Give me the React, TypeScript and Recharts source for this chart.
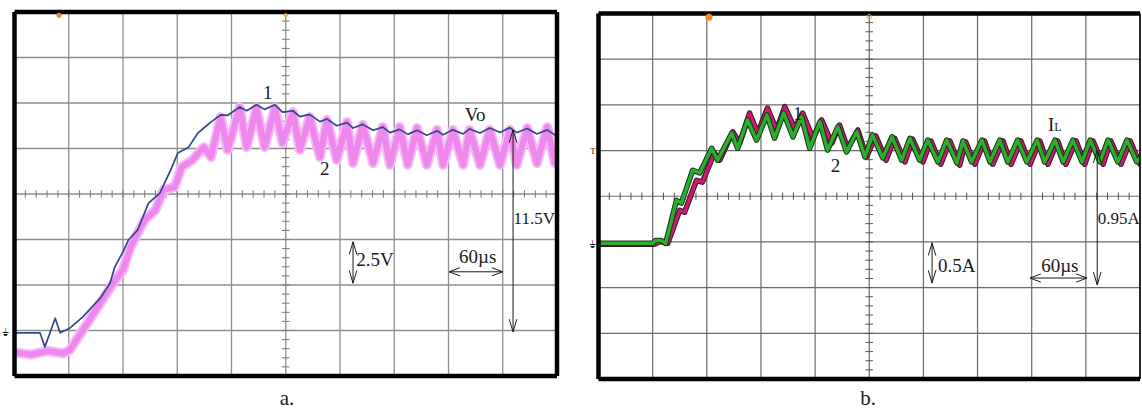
import React from 'react';
import {
  LineChart, Line, XAxis, YAxis, CartesianGrid,
  ReferenceLine, ReferenceDot,
} from 'recharts';

// scope divisions
const divTicksX = [0, 1, 2, 3, 4, 5, 6, 7, 8, 9, 10];
const divTicksY = [0, 1, 2, 3, 4, 5, 6, 7, 8];

// panel a: output voltage, [time div, level div]
const voTrace: [number, number][] = [
  [0, 0.95], [0.47, 0.95], [0.56, 0.64], [0.75, 1.27], [0.84, 0.95], [1.02, 1.05],
  [1.26, 1.3], [1.58, 1.71], [1.76, 2.04], [1.85, 2.4], [2.0, 2.73], [2.1, 2.99],
  [2.27, 3.21], [2.47, 3.8], [2.68, 4.02], [2.88, 4.53], [3.01, 4.9], [3.21, 5.03],
  [3.38, 5.34], [3.49, 5.45], [3.62, 5.58], [3.8, 5.74], [3.93, 5.73], [4.15, 5.91],
  [4.28, 5.83], [4.46, 5.96], [4.61, 5.86], [4.8, 5.96], [4.94, 5.8], [5.13, 5.83],
  [5.26, 5.7], [5.44, 5.75], [5.63, 5.59], [5.76, 5.65], [5.94, 5.5], [6.13, 5.57],
  [6.24, 5.45], [6.42, 5.53], [6.61, 5.4], [6.79, 5.47], [6.92, 5.35], [7.1, 5.42],
  [7.25, 5.31], [7.42, 5.4], [7.6, 5.29], [7.79, 5.39], [7.9, 5.3], [8.08, 5.41],
  [8.27, 5.32], [8.39, 5.43], [8.58, 5.34], [8.76, 5.45], [8.95, 5.35], [9.13, 5.46],
  [9.26, 5.35], [9.45, 5.44], [9.63, 5.32], [9.82, 5.41], [9.96, 5.3], [10, 5.33],
];

const pinkTrace: [number, number][] = [
  [0, 0.52], [0.3, 0.47], [0.6, 0.55], [0.9, 0.5], [1.02, 0.57], [1.26, 1.01],
  [1.58, 1.6], [1.82, 2.04], [2.0, 2.33], [2.14, 2.84], [2.4, 3.43], [2.6, 3.65],
  [2.75, 4.09], [2.95, 4.15], [3.08, 4.59], [3.28, 4.75], [3.49, 5.03], [3.62, 4.81],
  [3.8, 5.69], [3.93, 4.97], [4.15, 5.91], [4.28, 5.03], [4.46, 5.89], [4.61, 5.03],
  [4.8, 5.89], [4.94, 5.12], [5.13, 5.8], [5.26, 4.97], [5.44, 5.69], [5.63, 4.81],
  [5.76, 5.63], [5.94, 4.75], [6.13, 5.58], [6.24, 4.68], [6.42, 5.52], [6.61, 4.68],
  [6.79, 5.47], [6.92, 4.64], [7.1, 5.47], [7.25, 4.64], [7.42, 5.45], [7.6, 4.64],
  [7.79, 5.41], [7.9, 4.64], [8.08, 5.41], [8.27, 4.64], [8.39, 5.41], [8.58, 4.64],
  [8.76, 5.41], [8.95, 4.64], [9.13, 5.41], [9.26, 4.64], [9.45, 5.45], [9.63, 4.68],
  [9.82, 5.47], [9.96, 4.68], [10, 4.75],
];

// panel b: inductor currents
const greenTrace: [number, number][] = [
  [0, 2.97], [1.0, 2.97], [1.05, 3.03], [1.16, 3.03], [1.24, 2.97], [1.44, 3.91],
  [1.53, 3.85], [1.74, 4.57], [1.87, 4.51], [2.09, 5.05], [2.2, 4.79], [2.46, 5.38],
  [2.57, 5.05], [2.75, 5.67], [2.92, 5.23], [3.11, 5.78], [3.25, 5.27], [3.42, 5.82],
  [3.59, 5.3], [3.75, 5.74], [3.9, 5.05], [4.09, 5.63], [4.23, 5.01], [4.42, 5.52],
  [4.58, 4.97], [4.77, 5.41], [4.92, 4.86], [5.06, 5.34], [5.25, 4.84], [5.42, 5.3],
  [5.6, 4.79], [5.75, 5.27], [5.93, 4.79], [6.08, 5.23], [6.27, 4.75], [6.43, 5.23],
  [6.62, 4.73], [6.73, 5.21], [6.89, 4.75], [7.08, 5.23], [7.23, 4.75], [7.41, 5.23],
  [7.56, 4.75], [7.74, 5.23], [7.91, 4.75], [8.1, 5.23], [8.24, 4.75], [8.43, 5.23],
  [8.58, 4.75], [8.76, 5.23], [8.93, 4.75], [9.08, 5.23], [9.26, 4.75], [9.41, 5.23],
  [9.59, 4.75], [9.76, 5.23], [9.94, 4.75], [10, 4.84],
];

const magentaTrace: [number, number][] = [
  [0, 2.95], [1.04, 2.95], [1.13, 3.01], [1.28, 2.97], [1.5, 3.69], [1.59, 3.65],
  [1.81, 4.35], [1.92, 4.31], [2.14, 4.95], [2.24, 4.79], [2.48, 5.41], [2.61, 5.16],
  [2.79, 5.82], [2.94, 5.38], [3.12, 5.93], [3.29, 5.45], [3.44, 5.96], [3.62, 5.49],
  [3.77, 5.82], [3.96, 5.27], [4.12, 5.67], [4.31, 5.16], [4.45, 5.56], [4.6, 5.05],
  [4.79, 5.45], [4.95, 4.86], [5.12, 5.32], [5.31, 4.79], [5.47, 5.27], [5.66, 4.75],
  [5.8, 5.25], [5.99, 4.75], [6.14, 5.21], [6.32, 4.7], [6.49, 5.21], [6.67, 4.68],
  [6.78, 5.19], [6.95, 4.7], [7.13, 5.21], [7.28, 4.7], [7.47, 5.21], [7.62, 4.7],
  [7.8, 5.21], [7.97, 4.7], [8.15, 5.21], [8.3, 4.7], [8.48, 5.21], [8.63, 4.7],
  [8.82, 5.21], [8.98, 4.7], [9.13, 5.21], [9.32, 4.7], [9.46, 5.21], [9.65, 4.7],
  [9.82, 5.21], [10, 4.7],
];

const toPts = (arr: [number, number][]) => arr.map(([x, y]) => ({ x, y }));

const SERIF = '"Liberation Serif", "Times New Roman", serif';
const INK = '#1a1a1a';

function seg(key: string, x1: number, y1: number, x2: number, y2: number, w = 1, color = INK) {
  return (
    <ReferenceLine
      key={key}
      segment={[{ x: x1, y: y1 }, { x: x2, y: y2 }]}
      stroke={color}
      strokeWidth={w}
      ifOverflow="visible"
    />
  );
}

function txt(key: string, x: number, y: number, content: React.ReactNode, size = 19, anchor = 'start') {
  return (
    <ReferenceDot
      key={key}
      x={x}
      y={y}
      r={0}
      ifOverflow="visible"
      shape={(p: any) => (
        <text
          x={p.cx}
          y={p.cy}
          fontSize={size}
          fontFamily={SERIF}
          textAnchor={anchor}
          dominantBaseline="central"
          fill={INK}
        >
          {content}
        </text>
      )}
    />
  );
}

// centre graticule with minor ticks
function graticuleTicks(prefix: string, color: string) {
  const out: React.ReactNode[] = [];
  for (let i = 1; i < 50; i++) {
    const x = i * 0.2;
    out.push(seg(`${prefix}tx${i}`, x, 3.92, x, 4.08, 1, color));
  }
  for (let j = 1; j < 40; j++) {
    const y = j * 0.2;
    out.push(seg(`${prefix}ty${j}`, 4.93, y, 5.07, y, 1, color));
  }
  return out;
}

function frame(prefix: string, thinRight = false) {
  return [
    seg(`${prefix}f1`, 0, 8, 10, 8, 4.5, '#000'),
    seg(`${prefix}f2`, 0, 0, 10, 0, 4.5, '#000'),
    seg(`${prefix}f3`, 0, 0, 0, 8, 4.5, '#000'),
    seg(`${prefix}f4`, 10, 0, 10, 8, thinRight ? 1.5 : 4.5, '#000'),
  ];
}

function vArrow(prefix: string, x: number, y1: number, y2: number, top: boolean, bottom: boolean) {
  const out = [seg(`${prefix}s`, x, y1, x, y2)];
  if (bottom) {
    out.push(seg(`${prefix}b1`, x, y1, x - 0.07, y1 + 0.28));
    out.push(seg(`${prefix}b2`, x, y1, x + 0.07, y1 + 0.28));
  }
  if (top) {
    out.push(seg(`${prefix}t1`, x, y2, x - 0.07, y2 - 0.28));
    out.push(seg(`${prefix}t2`, x, y2, x + 0.07, y2 - 0.28));
  }
  return out;
}

function hArrow(prefix: string, y: number, x1: number, x2: number) {
  return [
    seg(`${prefix}s`, x1, y, x2, y),
    seg(`${prefix}l1`, x1, y, x1 + 0.2, y + 0.09),
    seg(`${prefix}l2`, x1, y, x1 + 0.2, y - 0.09),
    seg(`${prefix}r1`, x2, y, x2 - 0.2, y + 0.09),
    seg(`${prefix}r2`, x2, y, x2 - 0.2, y - 0.09),
  ];
}

function Axes() {
  return [
    <XAxis key="x" type="number" dataKey="x" domain={[0, 10]} ticks={divTicksX} allowDataOverflow hide />,
    <YAxis key="y" type="number" dataKey="y" domain={[0, 8]} ticks={divTicksY} allowDataOverflow hide />,
  ];
}

const round = { strokeLinejoin: 'round' as const, strokeLinecap: 'round' as const };

function PanelA() {
  return (
    <LineChart width={571} height={408} margin={{ top: 12, left: 14.5, right: 14, bottom: 32 }}>
      {Axes()}
      <CartesianGrid stroke="#8e8e8e" strokeWidth={1.3} />
      {graticuleTicks('a', '#777')}
      <Line data={toPts(pinkTrace)} dataKey="y" type="linear" stroke="#f6b8f6" strokeWidth={10} dot={false} isAnimationActive={false} {...round} />
      <Line data={toPts(pinkTrace)} dataKey="y" type="linear" stroke="#ee88ee" strokeWidth={6} dot={false} isAnimationActive={false} {...round} />
      <Line data={toPts(voTrace)} dataKey="y" type="linear" stroke="#34468c" strokeWidth={1.7} dot={false} isAnimationActive={false} {...round} />
      {frame('a')}
      {txt('a1', 4.58, 6.24, '1')}
      {txt('a2', 5.63, 4.57, '2')}
      {txt('avo', 8.49, 5.74, 'Vo', 19, 'middle')}
      {vArrow('av', 9.19, 0.97, 5.41, true, true)}
      {txt('a115', 9.2, 3.47, '11.5V', 17)}
      {vArrow('a25', 6.24, 2.04, 2.95, true, true)}
      {txt('a25t', 6.3, 2.55, '2.5V', 19)}
      {hArrow('a60', 2.29, 8.01, 9.0)}
      {txt('a60t', 8.54, 2.62, '60µs', 19, 'middle')}
      <ReferenceDot x={0.82} y={7.93} r={2.5} fill="#e08a2a" stroke="none" ifOverflow="visible" />
      <ReferenceDot x={5.0} y={7.93} r={2} fill="#e8b060" stroke="none" ifOverflow="visible" />
      {txt('agnd', -0.17, 0.95, '⏚', 10, 'middle')}
    </LineChart>
  );
}

function PanelB() {
  return (
    <LineChart width={571} height={408} margin={{ top: 13.5, left: 27.5, right: 2, bottom: 29 }}>
      {Axes()}
      <CartesianGrid stroke="#6a6a6a" strokeWidth={1.2} />
      {graticuleTicks('b', '#555')}
      <Line data={toPts(magentaTrace)} dataKey="y" type="linear" stroke="#3a1a2a" strokeWidth={5.5} dot={false} isAnimationActive={false} {...round} />
      <Line data={toPts(magentaTrace)} dataKey="y" type="linear" stroke="#cc1a72" strokeWidth={3.4} dot={false} isAnimationActive={false} {...round} />
      <Line data={toPts(greenTrace)} dataKey="y" type="linear" stroke="#163a16" strokeWidth={5.5} dot={false} isAnimationActive={false} {...round} />
      <Line data={toPts(greenTrace)} dataKey="y" type="linear" stroke="#30ac30" strokeWidth={3.4} dot={false} isAnimationActive={false} {...round} />
      {frame('b', true)}
      {txt('b1', 3.59, 5.82, '1')}
      {txt('b2', 4.29, 4.68, '2')}
      {txt('bil', 8.3, 5.56, <>I<tspan fontSize={12} dy={2}>L</tspan></>, 19)}
      {vArrow('bv', 9.21, 2.06, 5.01, true, true)}
      {txt('b095', 9.22, 3.52, '0.95A', 17)}
      {vArrow('b05', 6.16, 2.1, 2.98, true, true)}
      {txt('b05t', 6.27, 2.49, '0.5A', 19)}
      {hArrow('b60', 2.21, 7.97, 9.02)}
      {txt('b60t', 8.52, 2.49, '60µs', 19, 'middle')}
      <ReferenceDot x={2.04} y={7.92} r={3.5} fill="#f08a20" stroke="none" ifOverflow="visible" />
      <ReferenceDot x={5.0} y={7.93} r={2.2} fill="none" stroke="#e0a050" ifOverflow="visible" />
      {txt('bT', -0.1, 5.0, 'T', 9, 'middle')}
      {txt('bgnd', -0.12, 2.95, '⏚', 10, 'middle')}
    </LineChart>
  );
}

export default function App() {
  return (
    <div style={{ position: 'absolute', left: 0, top: 0, width: 1142, height: 408, background: '#fff', fontFamily: SERIF }}>
      <div style={{ position: 'absolute', left: 0, top: 0 }}>
        <PanelA />
      </div>
      <div style={{ position: 'absolute', left: 571, top: 0 }}>
        <PanelB />
      </div>
      <div style={{ position: 'absolute', left: 0, width: 574, top: 386, textAlign: 'center', fontSize: 21, color: INK }}>a.</div>
      <div style={{ position: 'absolute', left: 571, width: 594, top: 386, textAlign: 'center', fontSize: 21, color: INK }}>b.</div>
    </div>
  );
}
